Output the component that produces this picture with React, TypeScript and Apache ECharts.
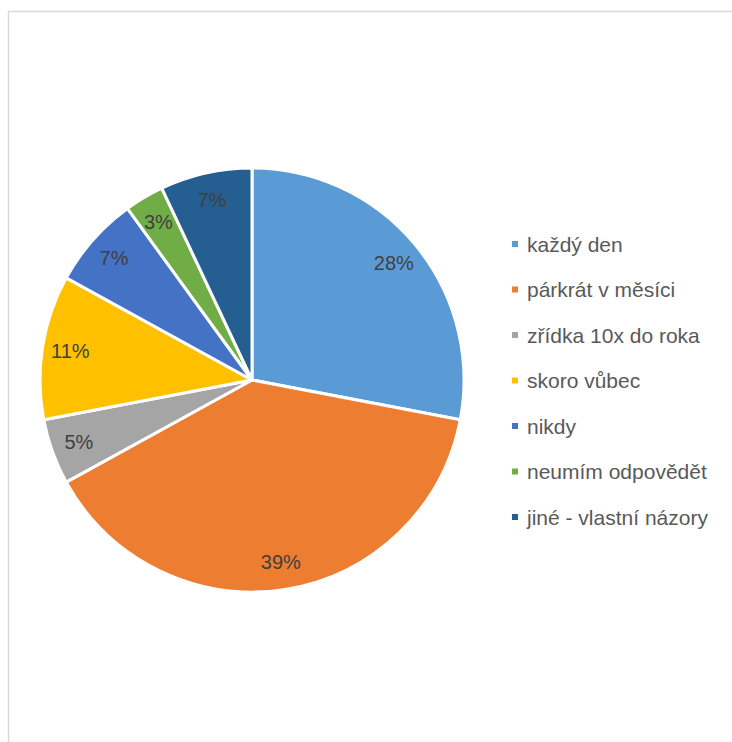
import React, { useEffect, useRef } from "react";
import * as echarts from "echarts";

const categories = [
  "každý den",
  "párkrát v měsíci",
  "zřídka 10x do roka",
  "skoro vůbec",
  "nikdy",
  "neumím odpovědět",
  "jiné - vlastní názory",
];
const values = [28, 39, 5, 11, 7, 3, 7];
const colors = ["#5B9BD5", "#ED7D31", "#A5A5A5", "#FFC000", "#4472C4", "#70AD47", "#255E91"];

export default function App() {
  const ref = useRef<HTMLDivElement>(null);
  useEffect(() => {
    if (!ref.current) return;
    const chart = echarts.init(ref.current, null, { renderer: "svg" });
    const data = categories.map((name, i) => ({ name, value: values[i] }));
    chart.setOption({
      animation: false,
      color: colors,
      graphic: [
        {
          type: "rect",
          shape: { x: 8.5, y: 11.5, width: 800, height: 800 },
          style: { fill: "none", stroke: "#d9d9d9", lineWidth: 1.5 },
          silent: true,
        },
      ],
      legend: {
        orient: "vertical",
        left: 505,
        top: 227,
        icon: "rect",
        itemWidth: 8,
        itemHeight: 8,
        itemGap: 21.5,
        data: categories,
        textStyle: {
          fontFamily: "Liberation Sans",
          fontSize: 21,
          lineHeight: 24,
          color: "#595959",
          padding: [0, 0, 0, 3],
        },
      },
      series: [
        {
          type: "pie",
          center: [252, 380],
          radius: [0, 212],
          startAngle: 90,
          clockwise: true,
          data,
          label: { show: false },
          labelLine: { show: false },
          itemStyle: { borderColor: "#ffffff", borderWidth: 3 },
          emphasis: { disabled: true },
        },
        {
          type: "pie",
          center: [252, 380],
          radius: [150, 212],
          startAngle: 90,
          clockwise: true,
          data,
          silent: true,
          itemStyle: { color: "rgba(0,0,0,0)" },
          label: {
            show: true,
            position: "inside",
            formatter: (p: any) => `${p.value}%`,
            fontFamily: "Liberation Sans",
            fontSize: 20,
            color: "#404040",
          },
          labelLine: { show: false },
          emphasis: { disabled: true },
        },
      ],
    });
    return () => chart.dispose();
  }, []);
  return (
    <div
      ref={ref}
      style={{ position: "fixed", left: 0, top: 0, width: 732, height: 742, background: "#fff" }}
    />
  );
}
